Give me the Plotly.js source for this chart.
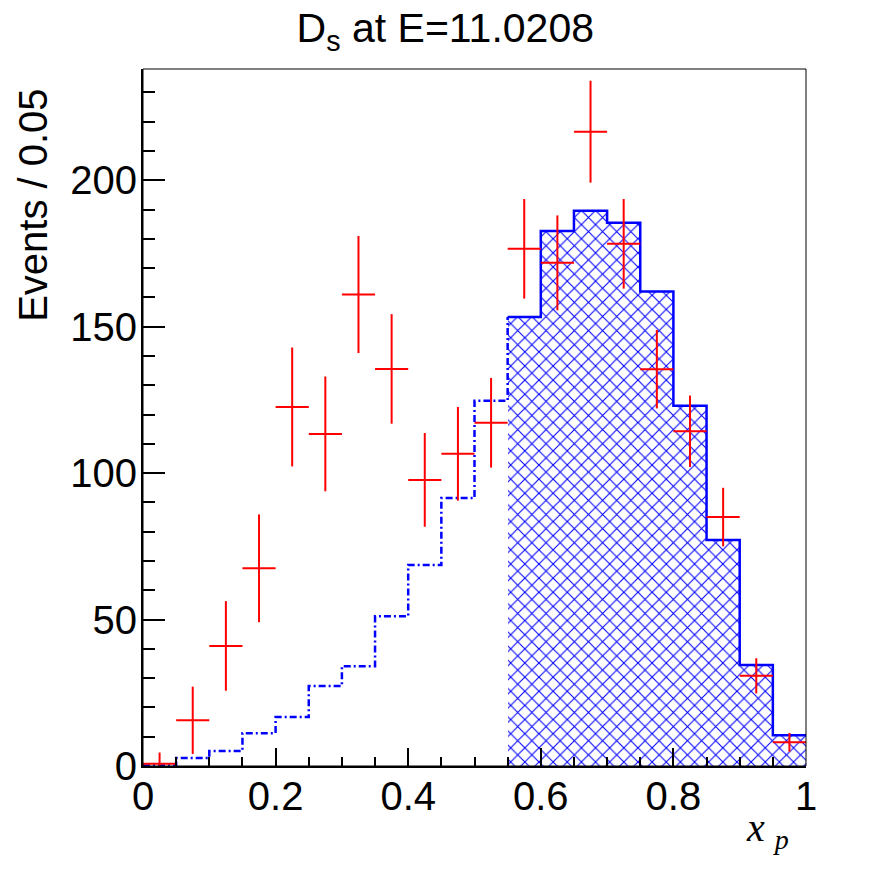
<!DOCTYPE html>
<html>
<head>
<meta charset="utf-8">
<script src="https://cdn.plot.ly/plotly-3.0.1.min.js"></script>
<style>html,body{margin:0;padding:0;background:#fff;}#chart{width:896px;height:872px;}</style>
</head>
<body>
<div id="chart"></div>
<script>
// Bin low edges (x_p), bin width 0.05
const binLow = [0.00,0.05,0.10,0.15,0.20,0.25,0.30,0.35,0.40,0.45,0.50,0.55,0.60,0.65,0.70,0.75,0.80,0.85,0.90,0.95];
const binWidth = 0.05;
// Data points (red)
const dataVals = [0.8,15.6,41,67.5,122.6,113.4,161,135.6,97.7,106.6,117.2,176.6,171.8,216.6,178.3,135.5,114.3,85,30.8,8.1];
const dataErr  = [3.8,11.5,15.3,18.4,20.3,19.6,20,18.7,16,16,15.3,17,16.2,17.4,15.3,13.4,12.2,10,6,3.2];
// MC histogram (blue)
const mcVals = [0.2,2.7,5.1,11.2,16.7,27.3,34.1,51.1,68.6,91.5,124.7,153.3,182.7,189.6,185.5,162,123,77.2,34.5,10.5];
// First bin of the selected (hatched) region
const cutLow = 0.55;

const centers = binLow.map(v => +(v + binWidth/2).toFixed(4));
const cutIdx = binLow.findIndex(v => Math.abs(v - cutLow) < 1e-9);

const barX = centers.slice(cutIdx);
const barY = mcVals.slice(cutIdx);

const solidX = binLow.slice(cutIdx).concat([binLow[binLow.length-1] + binWidth]);
const solidY = mcVals.slice(cutIdx).concat([mcVals[mcVals.length-1]]);

const dashX = binLow.slice(0, cutIdx).concat([binLow[cutIdx]]);
const dashY = mcVals.slice(0, cutIdx).concat([mcVals[cutIdx]]);

const traces = [
  {
    type:'bar', x:barX, y:barY, width:binWidth,
    marker:{color:'#0000ff', line:{width:0},
      pattern:{shape:'x', fgcolor:'#0000ff', bgcolor:'#ffffff', size:10, solidity:0.2}},
    hoverinfo:'skip', showlegend:false
  },
  {
    type:'scatter', mode:'lines', x:solidX, y:solidY,
    line:{shape:'hv', color:'#0000ff', width:2.5}, showlegend:false, hoverinfo:'skip'
  },
  {
    type:'scatter', mode:'lines', x:dashX, y:dashY,
    line:{shape:'hv', color:'#0000ff', width:2.5, dash:'7px,3px,2px,3px'}, showlegend:false, hoverinfo:'skip'
  },
  {
    type:'scatter', mode:'markers', x:centers, y:dataVals,
    marker:{size:1, color:'#ff0000'},
    error_y:{type:'data', array:dataErr, visible:true, color:'#ff0000', thickness:2, width:0},
    error_x:{type:'data', array:centers.map(()=>binWidth/2), visible:true, color:'#ff0000', thickness:2, width:0},
    showlegend:false, hoverinfo:'skip'
  }
];

const tickFont = {family:'Liberation Sans, Arial, sans-serif', size:40, color:'#000'};

const layout = {
  width:896, height:872,
  margin:{l:143, r:90, t:69, b:106},
  paper_bgcolor:'#fff', plot_bgcolor:'#fff',
  bargap:0, showlegend:false,
  title:{text:'D<sub>s</sub> at E=11.0208', font:{family:'Liberation Sans, Arial, sans-serif', size:41, color:'#000'},
    x:0.497, xref:'container', xanchor:'center', y:0.968, yref:'container', yanchor:'middle'},
  xaxis:{range:[0,1], tickvals:[0,0.2,0.4,0.6,0.8,1], ticktext:['0','0.2','0.4','0.6','0.8','1'],
    ticks:'inside', ticklen:18, tickwidth:2, tickcolor:'#000', ticklabelstandoff:-6,
    minor:{ticks:'inside', dtick:0.05, tick0:0, ticklen:9, tickwidth:2, tickcolor:'#000', showgrid:false},
    showline:true, linecolor:'#000', linewidth:2, mirror:false, showgrid:false, zeroline:false,
    tickfont:tickFont, fixedrange:true},
  yaxis:{range:[0,238], tickvals:[0,50,100,150,200],
    ticks:'inside', ticklen:22, tickwidth:2, tickcolor:'#000', ticklabelstandoff:-4,
    minor:{ticks:'inside', dtick:10, tick0:0, ticklen:12, tickwidth:2, tickcolor:'#000', showgrid:false},
    showline:true, linecolor:'#000', linewidth:2, mirror:false, showgrid:false, zeroline:false,
    tickfont:tickFont, fixedrange:true},
  shapes:[{type:'rect', xref:'paper', yref:'paper', x0:0, x1:1, y0:0, y1:1, line:{color:'#000', width:1}, layer:'above'}],
  annotations:[
    {text:'Events / 0.05', textangle:-90, xref:'paper', yref:'paper', x:-0.166, y:0.975,
      xanchor:'center', yanchor:'top', showarrow:false,
      font:{family:'Liberation Sans, Arial, sans-serif', size:40, color:'#000'}},
    {text:'<i>x</i> <sub><i>p</i></sub>', xref:'paper', yref:'paper', x:0.977, y:-0.092,
      xanchor:'right', yanchor:'middle', showarrow:false,
      font:{family:'Liberation Serif, Times New Roman, serif', size:40, color:'#000'}}
  ]
};

Plotly.newPlot('chart', traces, layout, {staticPlot:true, displayModeBar:false});
</script>
</body>
</html>
